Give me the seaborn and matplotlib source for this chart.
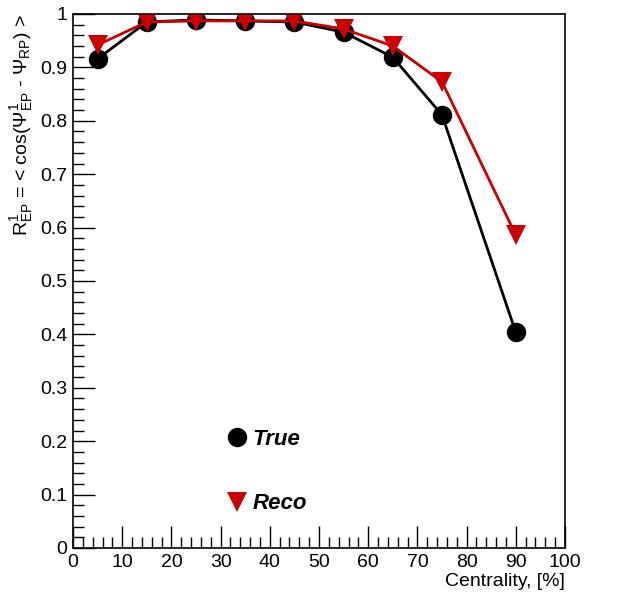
import matplotlib
matplotlib.use("Agg")
import matplotlib.pyplot as plt
from matplotlib.lines import Line2D
from matplotlib.ticker import MultipleLocator
import seaborn as sns
import pandas as pd

centrality = [5, 15, 25, 35, 45, 55, 65, 75, 90]
r_true = [0.916, 0.985, 0.989, 0.987, 0.985, 0.966, 0.919, 0.811, 0.404]
r_reco = [0.942, 0.985, 0.987, 0.987, 0.987, 0.972, 0.940, 0.873, 0.586]
series = ["True", "Reco"]
colors = {"True": "black", "Reco": "#CC0000"}

df = pd.concat([
    pd.DataFrame({"c": centrality, "r": r_true, "s": "True"}),
    pd.DataFrame({"c": centrality, "r": r_reco, "s": "Reco"}),
])

sns.set_style("ticks")
plt.rcParams["font.family"] = ["Liberation Sans", "DejaVu Sans"]
plt.rcParams["mathtext.fontset"] = "custom"
plt.rcParams["mathtext.rm"] = "Liberation Sans"
plt.rcParams["mathtext.it"] = "Liberation Sans"
for k in ["text.color", "axes.labelcolor", "xtick.color", "ytick.color"]:
    plt.rcParams[k] = "black"

fig = plt.figure(figsize=(6.3, 5.96), dpi=100)
ax = fig.add_axes([73/630, 1-548/596, (565-73)/630, (548-14)/596])

sns.lineplot(data=df, x="c", y="r", hue="s", style="s", hue_order=series,
             style_order=series, markers={"True": "o", "Reco": "v"},
             dashes=False, palette=colors, markersize=14, linewidth=2,
             markeredgewidth=0, legend=False, ax=ax)

ax.set_xlim(0, 100)
ax.set_ylim(0, 1)
ax.xaxis.set_major_locator(MultipleLocator(10))
ax.xaxis.set_minor_locator(MultipleLocator(2))
ax.yaxis.set_major_locator(MultipleLocator(0.1))
ax.yaxis.set_minor_locator(MultipleLocator(0.02))
ax.yaxis.set_major_formatter(plt.FuncFormatter(lambda v, p: f"{v:g}"))
ax.tick_params(which="major", direction="in", length=16, width=1, labelsize=14,
               top=False, right=False, pad=4)
ax.tick_params(which="minor", direction="in", length=8, width=1,
               top=False, right=False)
for sp in ax.spines.values():
    sp.set_linewidth(1.2)
    sp.set_color("black")

ax.set_xlabel("Centrality, [%]", fontsize=14, loc="right", labelpad=2)
ax.set_ylabel(r"R$^{1}_{\rm EP}$ = < cos($\Psi^{1}_{\rm EP}$ - $\Psi_{\rm RP}$) >",
              fontsize=14, loc="top", labelpad=4)

handles = [Line2D([], [], color=colors[s], marker=m, linestyle="none",
                  markersize=14, markeredgewidth=0)
           for s, m in zip(series, ["o", "v"])]
ax.legend(handles, series, loc="upper left", bbox_to_anchor=(0.275, 0.26),
          frameon=False, handlelength=0.8, handletextpad=0.3, labelspacing=1.95,
          prop={"size": 16, "weight": "bold", "style": "italic"})

fig.savefig("out.png", dpi=100)
